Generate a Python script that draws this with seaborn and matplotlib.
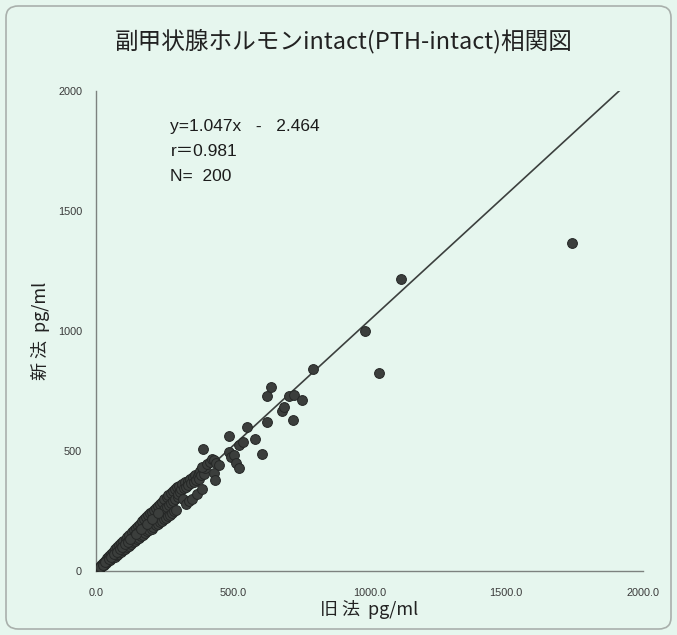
import numpy as np
import pandas as pd
import matplotlib
matplotlib.use("Agg")
import matplotlib.pyplot as plt
from matplotlib.patches import FancyBboxPatch
import seaborn as sns

# Paired PTH-intact measurements (old method vs new method), pg/ml
old_method = [
    8, 12, 15, 18, 20, 22, 25, 28, 30, 32, 35, 38, 40, 42, 45, 48, 50, 52, 55, 58,
    60, 62, 65, 68, 70, 72, 75, 78, 80, 82, 85, 88, 90, 92, 95, 98,
    100, 102, 105, 108, 110, 112, 115, 118, 120, 122, 125, 128, 130, 132, 135, 138, 140, 142, 145, 148,
    150, 152, 155, 158, 160, 162, 165, 168, 170, 172, 175, 178, 180, 182, 185, 188, 190, 192, 195, 198,
    200, 203, 205, 208, 210, 213, 215, 218, 220, 222, 225, 228, 230, 233, 235, 238, 240, 243, 245, 248,
    250, 253, 255, 258, 260, 263, 265, 268, 270, 273, 275, 278, 280, 283, 285, 288, 290, 293, 295, 298,
    300, 305, 308, 312, 315, 318, 320, 325, 328, 330, 335, 338, 340, 345, 348, 350, 355, 358, 362, 365,
    368, 372, 375, 378, 382, 385, 388, 392, 395, 398,
    389, 393, 405, 415, 425, 433, 433, 436, 440, 450,
    487, 487, 493, 505, 511, 524, 524, 536, 551, 582,
    606, 626, 626, 639, 681, 687, 705, 724, 720, 754,
    795, 985, 1035, 1115, 1740,
    5, 10, 16, 24, 34, 46, 56, 66, 76, 86, 96, 106, 116, 126, 146, 166, 186, 206, 226,
]
new_method = [
    13, 13, 13, 25, 21, 19, 34, 29, 26, 43, 37, 33, 53, 44, 40, 63, 53, 46, 72, 61,
    53, 80, 68, 60, 90, 76, 66, 100, 84, 72, 109, 92, 79, 118, 100, 86,
    125, 106, 92, 135, 114, 99, 143, 123, 106, 151, 130, 113, 161, 137, 119, 171, 146, 125, 179, 154,
    132, 187, 161, 139, 197, 168, 145, 207, 177, 151, 215, 185, 158, 223, 192, 165, 233, 200, 172, 243,
    206, 177, 246, 214, 183, 255, 221, 190, 263, 229, 196, 272, 237, 203, 280, 245, 209, 289, 252, 216,
    298, 261, 222, 307, 268, 229, 315, 276, 235, 324, 283, 242, 332, 291, 248, 341, 299, 255, 349, 307,
    322, 355, 330, 340, 362, 300, 345, 370, 352, 280, 375, 358, 290, 382, 365, 300, 390, 372, 400, 380,
    320, 395, 410, 385, 415, 398, 340, 420, 405, 430,
    435, 510, 445, 455, 468, 462, 408, 379, 450, 440,
    564, 497, 476, 483, 450, 428, 525, 539, 601, 549,
    486, 622, 729, 768, 668, 685, 729, 733, 629, 712,
    842, 1000, 825, 1215, 1365,
    6, 11, 17, 25, 36, 48, 58, 69, 80, 90, 101, 112, 122, 132, 154, 176, 196, 218, 240,
]

# Regression reported on the chart
slope = 1.047
intercept = -2.464
r_value = 0.981
n_count = 200

x_ticks = [0, 500, 1000, 1500, 2000]
x_tick_labels = ["0.0", "500.0", "1000.0", "1500.0", "2000.0"]
y_ticks = [0, 500, 1000, 1500, 2000]
y_tick_labels = ["0", "500", "1000", "1500", "2000"]

title_text = "副甲状腺ホルモンintact(PTH-intact)相関図"
x_label = "旧 法  pg/ml"
y_label = "新 法  pg/ml"

df = pd.DataFrame({"old": old_method, "new": new_method})

bg = "#e6f6ee"
sns.set_theme(style="white")
plt.rcParams["font.family"] = ["Noto Sans CJK JP", "DejaVu Sans"]

fig = plt.figure(figsize=(6.77, 6.35), dpi=100, facecolor=bg)
ax = fig.add_axes([96 / 677, 1 - 571 / 635, (643 - 96) / 677, (571 - 91) / 635])
ax.set_facecolor(bg)

# Rounded outer frame
frame = FancyBboxPatch((6 / 677, 6 / 635), 665 / 677, 623 / 635,
                       boxstyle="round,pad=0,rounding_size=0.018",
                       transform=fig.transFigure, facecolor="none",
                       edgecolor="#a9b0ac", linewidth=1.2, zorder=0)
fig.patches.append(frame)

# Regression line
line_x = np.array([0, 2000])
line_df = pd.DataFrame({"old": line_x, "new": slope * line_x + intercept})
sns.lineplot(data=line_df, x="old", y="new", ax=ax, color="#3c403e",
             linewidth=1.2, zorder=2)

sns.scatterplot(data=df, x="old", y="new", ax=ax, s=50, color="#3b3e3c",
                edgecolor="#252726", linewidth=0.7, zorder=3)

ax.set_xlim(0, 2000)
ax.set_ylim(0, 2000)
ax.set_xticks(x_ticks)
ax.set_xticklabels(x_tick_labels)
ax.set_yticks(y_ticks)
ax.set_yticklabels(y_tick_labels)
ax.tick_params(axis="both", direction="in", length=3, width=0.8,
               color="#6f7471", labelsize=7.8, labelcolor="#3a3a3a")
ax.tick_params(axis="x", pad=12)
ax.tick_params(axis="y", pad=10)
for lab in ax.get_xticklabels() + ax.get_yticklabels():
    lab.set_family(["Liberation Sans Narrow", "Liberation Sans", "DejaVu Sans"])

for side in ["top", "right"]:
    ax.spines[side].set_visible(False)
for side in ["left", "bottom"]:
    ax.spines[side].set_color("#7d827f")
    ax.spines[side].set_linewidth(1.0)

ax.set_xlabel(x_label, fontsize=13, color="#222222", labelpad=2)
ax.set_ylabel(y_label, fontsize=13, color="#222222", labelpad=6)

fig.text(0.507, 0.935, title_text, ha="center", va="center",
         fontsize=17, color="#222222")

stat_kw = dict(transform=ax.transAxes, fontsize=12.5, color="#1c1c1c", ha="left",
               va="center", family=["Liberation Sans", "Noto Sans CJK JP", "DejaVu Sans"])
ax.text(0.136, 0.925, f"y={slope:.3f}x   -   {abs(intercept):.3f}", **stat_kw)
ax.text(0.136, 0.873, f"r＝{r_value:.3f}", **stat_kw)
ax.text(0.136, 0.821, f"N=  {n_count}", **stat_kw)

fig.savefig("out.png", dpi=100, facecolor=bg)
